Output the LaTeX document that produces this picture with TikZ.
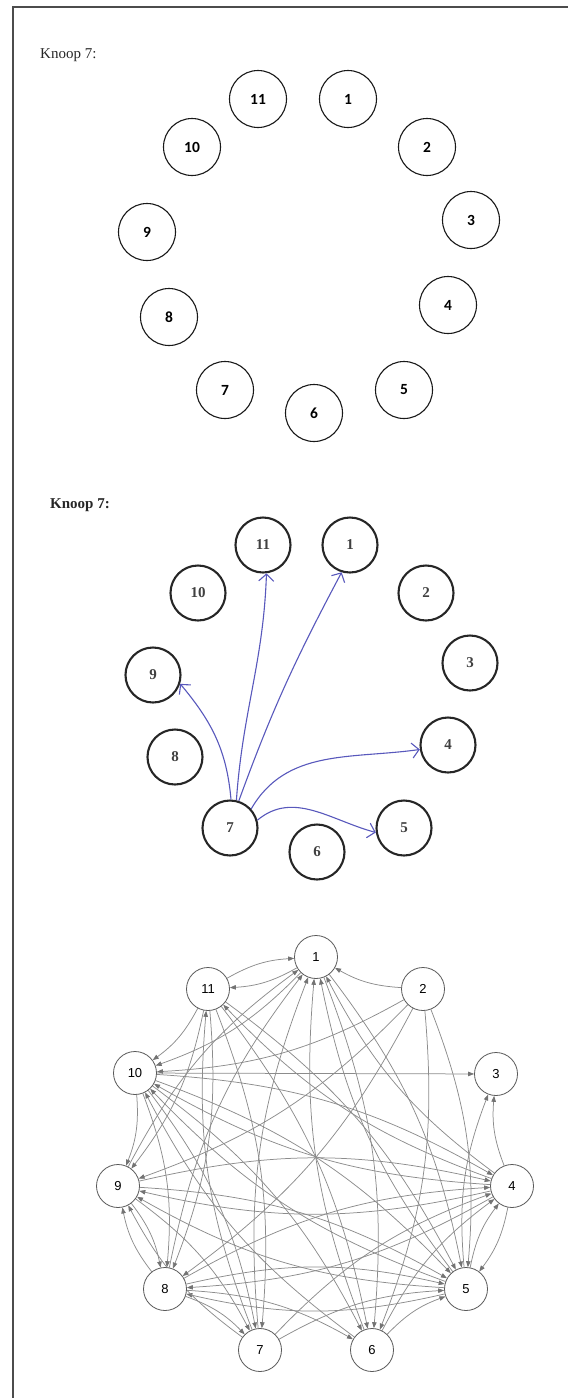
\documentclass[tikz,border=0pt]{standalone}
\usepackage{fontspec}
\setmainfont{Liberation Serif}
\newfontfamily\calfont{Carlito}
\newfontfamily\helvfont{Liberation Sans}
\usetikzlibrary{arrows.meta,backgrounds}
\definecolor{penblue}{RGB}{88,88,188}
\definecolor{edgegray}{RGB}{140,140,140}
\tikzset{
  topnode/.style={circle,draw=black!90,line width=1.1pt,minimum size=57pt,inner sep=0pt,
    font=\calfont\bfseries\fontsize{15.5}{17}\selectfont},
  midnode/.style={circle,draw=black!85,line width=2.1pt,minimum size=55pt,inner sep=0pt,
    text=black!75,font=\bfseries\fontsize{15}{17}\selectfont},
  botnode/.style={circle,draw=black!65,line width=0.8pt,fill=white,minimum size=43pt,inner sep=0pt,
    font=\helvfont\fontsize{13}{15}\selectfont},
  title/.style={anchor=base west,inner sep=0pt,text=black!85,font=\fontsize{15}{17}\selectfont},
  pen/.style={draw=penblue,line width=1.1pt,-{Straight Barb[length=7pt,width=15pt]}},
  edge/.style={draw=edgegray,line width=0.75pt,bend left=13,
    -{Triangle[length=6pt,width=4.5pt,color=black!55]}}
}
\begin{document}
\begin{tikzpicture}[x=1pt,y=1pt]
      \useasboundingbox (0,0) rectangle (568,-1398);
      \draw[black!70,line width=1.2pt] (13,-1398) -- (13,-7) -- (568,-7);

      \node[title] (knoopa) at (40,-58) {Knoop 7:};
      \path
        (348,-99) node[topnode] (t1){1}
        (427,-147) node[topnode] (t2){2}
        (471,-220) node[topnode] (t3){3}
        (448,-305) node[topnode] (t4){4}
        (404,-390) node[topnode] (t5){5}
        (314,-413) node[topnode] (t6){6}
        (225,-390) node[topnode] (t7){7}
        (169,-317) node[topnode] (t8){8}
        (147,-232) node[topnode] (t9){9}
        (192,-147) node[topnode] (t10){10}
        (258,-99) node[topnode] (t11){11};

      \node[title] (knoopb) at (50,-508) {\bfseries Knoop 7:};
      \path
        (350,-545) node[midnode] (m1){1}
        (426,-593) node[midnode] (m2){2}
        (470,-663) node[midnode] (m3){3}
        (448,-745) node[midnode] (m4){4}
        (404,-828) node[midnode] (m5){5}
        (317,-852) node[midnode] (m6){6}
        (230,-828) node[midnode] (m7){7}
        (175,-757) node[midnode] (m8){8}
        (153,-675) node[midnode] (m9){9}
        (198,-593) node[midnode] (m10){10}
        (263,-545) node[midnode] (m11){11};
      \begin{scope}[pen]
        \draw (m7.88) to[out=95,in=-50] (m9.-18);
        \draw (m7.77) to[out=86,in=-92] (m11.-83);
        \draw (m7.72) to[out=70,in=-118] (m1.-107);
        \draw (m7.42) to[out=60,in=188] (m4.189);
        \draw (m7.16) to[out=40,in=165] (m5.189);
      \end{scope}

      \path
        (316,-957) node[botnode] (b1){1}
        (423,-989) node[botnode] (b2){2}
        (496,-1074) node[botnode] (b3){3}
        (512,-1186) node[botnode] (b4){4}
        (466,-1289) node[botnode] (b5){5}
        (372,-1350) node[botnode] (b6){6}
        (260,-1350) node[botnode] (b7){7}
        (165,-1289) node[botnode] (b8){8}
        (118,-1186) node[botnode] (b9){9}
        (135,-1073) node[botnode] (b10){10}
        (208,-989) node[botnode] (b11){11};
      \begin{scope}[on background layer]
        \foreach \a/\b in {1/11,1/10,1/6,1/5,
            2/1,2/10,2/9,2/8,2/6,2/5,
            4/3,4/5,4/1,4/11,4/10,4/9,4/8,
            5/3,5/4,5/1,5/10,5/9,5/8,
            6/5,6/1,6/4,6/10,
            7/1,7/11,7/9,7/4,7/5,
            8/7,8/6,8/5,8/4,8/1,8/9,
            9/8,9/7,9/5,9/4,9/1,
            10/9,10/8,10/7,10/5,10/4,10/6,
            11/10,11/9,11/8,11/7,11/6,11/5,11/1}
          \draw[edge] (b\a) to (b\b);
        \draw[edge,bend left=0] (b10) to (b3);
      \end{scope}
    \end{tikzpicture}
\end{document}
